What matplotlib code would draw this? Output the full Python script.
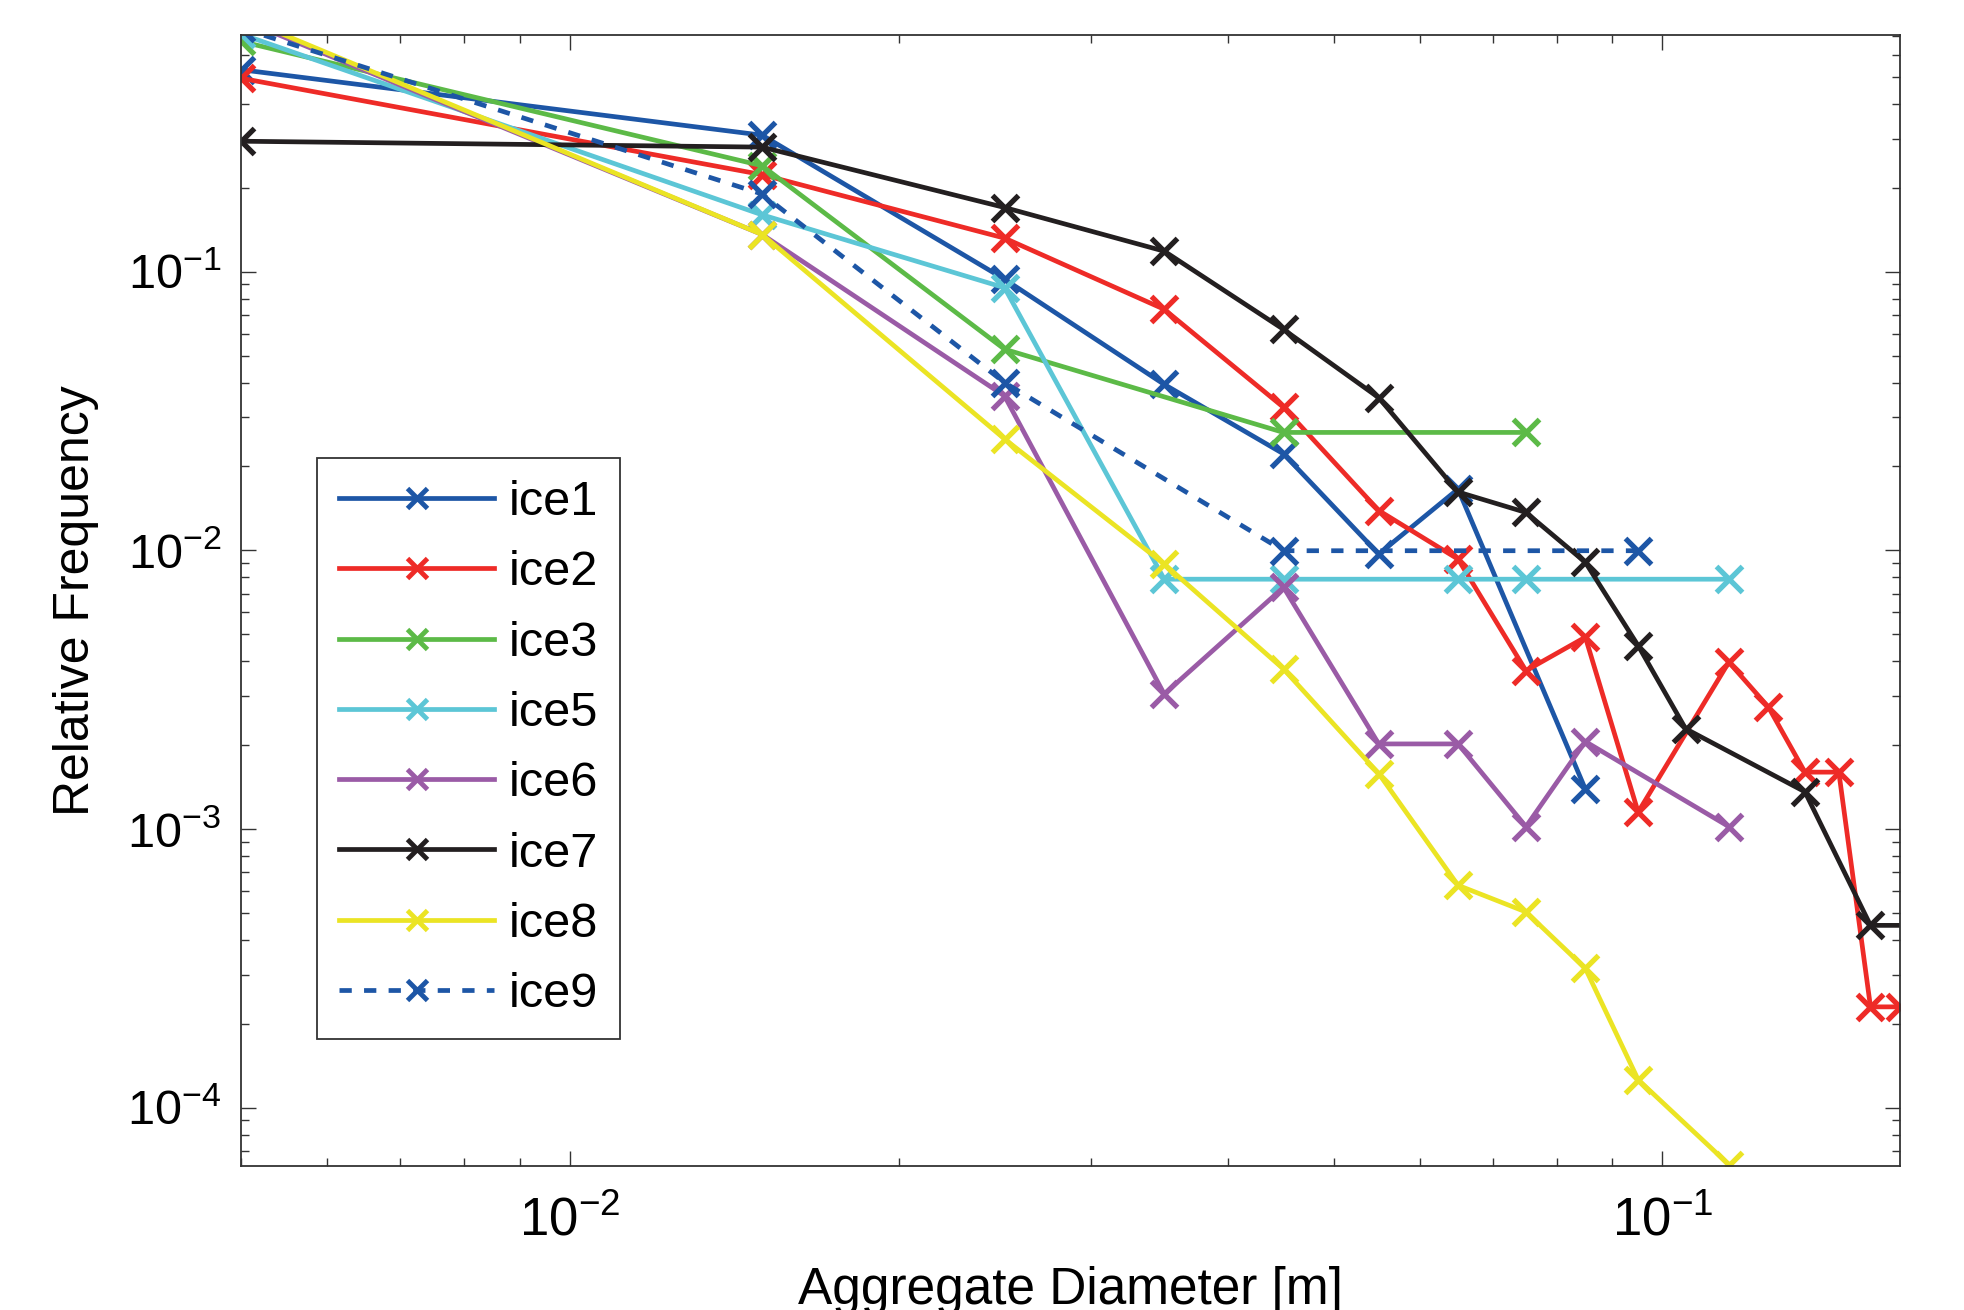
import matplotlib

matplotlib.use("Agg")

import matplotlib.pyplot as plt
import numpy as np
from matplotlib.ticker import LogLocator, NullFormatter

# bin centres [m] and relative frequencies
ice1_x = [0.005, 0.015, 0.025, 0.035, 0.045, 0.055, 0.065, 0.085]
ice1_y = [0.531, 0.309, 0.094, 0.0394, 0.0222, 0.0097, 0.0166, 0.00139]

ice2_x = [0.005, 0.015, 0.025, 0.035, 0.045, 0.055, 0.065, 0.075, 0.085, 0.095,
          0.115, 0.125, 0.135, 0.145, 0.155, 0.165]
ice2_y = [0.495, 0.223, 0.132, 0.0733, 0.0326, 0.0139, 0.0093, 0.0037, 0.00488, 0.00115,
          0.00397, 0.00274, 0.0016, 0.0016, 0.00023, 0.00023]

ice3_x = [0.005, 0.015, 0.025, 0.045, 0.075]
ice3_y = [0.671, 0.240, 0.0527, 0.0265, 0.0265]

ice5_x = [0.005, 0.015, 0.025, 0.035, 0.045, 0.065, 0.075, 0.115]
ice5_y = [0.713, 0.160, 0.0876, 0.00788, 0.00788, 0.00788, 0.00788, 0.00788]

ice6_x = [0.005, 0.015, 0.025, 0.035, 0.045, 0.055, 0.065, 0.075, 0.085, 0.115]
ice6_y = [0.806, 0.136, 0.0358, 0.00305, 0.00737, 0.00202, 0.00202, 0.00102, 0.00206, 0.00102]

ice7_x = [0.005, 0.015, 0.025, 0.035, 0.045, 0.055, 0.065, 0.075, 0.085, 0.095,
          0.105, 0.135, 0.155, 0.175]
ice7_y = [0.294, 0.280, 0.170, 0.1185, 0.0621, 0.0353, 0.0162, 0.01368, 0.00906, 0.00455,
          0.00229, 0.00136, 0.000451, 0.000451]

ice8_x = [0.005, 0.015, 0.025, 0.035, 0.045, 0.055, 0.065, 0.075, 0.085, 0.095, 0.115]
ice8_y = [0.823, 0.136, 0.0251, 0.00893, 0.00375, 0.00158, 0.000628, 0.000504, 0.000316,
          0.000126, 0.0000625]

ice9_x = [0.005, 0.015, 0.025, 0.045, 0.095]
ice9_y = [0.75, 0.190, 0.040, 0.00997, 0.00997]

series = [
    ("ice1", ice1_x, ice1_y, "#1d56a6", "-"),
    ("ice2", ice2_x, ice2_y, "#ee2b27", "-"),
    ("ice3", ice3_x, ice3_y, "#5cba47", "-"),
    ("ice5", ice5_x, ice5_y, "#5cc6d6", "-"),
    ("ice6", ice6_x, ice6_y, "#9a5ba6", "-"),
    ("ice7", ice7_x, ice7_y, "#231f20", "-"),
    ("ice8", ice8_x, ice8_y, "#ebe424", "-"),
    ("ice9", ice9_x, ice9_y, "#1d56a6", (0, (2.6, 2.6))),
]

plt.rcParams["font.family"] = ["Liberation Sans", "DejaVu Sans"]
plt.rcParams["mathtext.default"] = "regular"

fig = plt.figure(figsize=(19.65, 13.1), dpi=100)
ax = fig.add_axes([0.1225, 0.1103, 0.8445, 0.8627])

for name, xs, ys, color, ls in series:
    ax.plot(xs, ys, color=color, linestyle=ls, lw=3.4, marker="x",
            markersize=19, markeredgewidth=3.8, label=name)

ax.set_xscale("log")
ax.set_yscale("log")
ax.set_xlim(0.005, 0.165)
ax.set_ylim(6.2e-5, 0.705)

for axis in (ax.xaxis, ax.yaxis):
    axis.set_major_locator(LogLocator(base=10))
    axis.set_minor_locator(LogLocator(base=10, subs=np.arange(2, 10)))
    axis.set_minor_formatter(NullFormatter())

ax.tick_params(which="both", direction="in", top=True, right=True, width=1.0, color="#333333")
ax.tick_params(which="major", length=11)
ax.tick_params(which="minor", length=6)
ax.tick_params(axis="y", labelsize=35, pad=14)
ax.tick_params(axis="x", labelsize=38, pad=22)
for spine in ax.spines.values():
    spine.set_linewidth(1.3)
    spine.set_color("#333333")

ax.set_xlabel("Aggregate Diameter [m]", fontsize=37, labelpad=14)
ax.set_ylabel("Relative Frequency", fontsize=36, labelpad=20)

leg = ax.legend(loc="lower left", bbox_to_anchor=(0.046, 0.112), fontsize=35,
                frameon=True, fancybox=False, edgecolor="black", handlelength=3.2,
                handletextpad=0.3, labelspacing=0.52, borderpad=0.45, borderaxespad=0)
leg.get_frame().set_linewidth(1.3)
for h in leg.legend_handles:
    h.set_markersize(14)
    h.set_markeredgewidth(3.5)

fig.savefig("out.png", dpi=100)
plt.close(fig)
